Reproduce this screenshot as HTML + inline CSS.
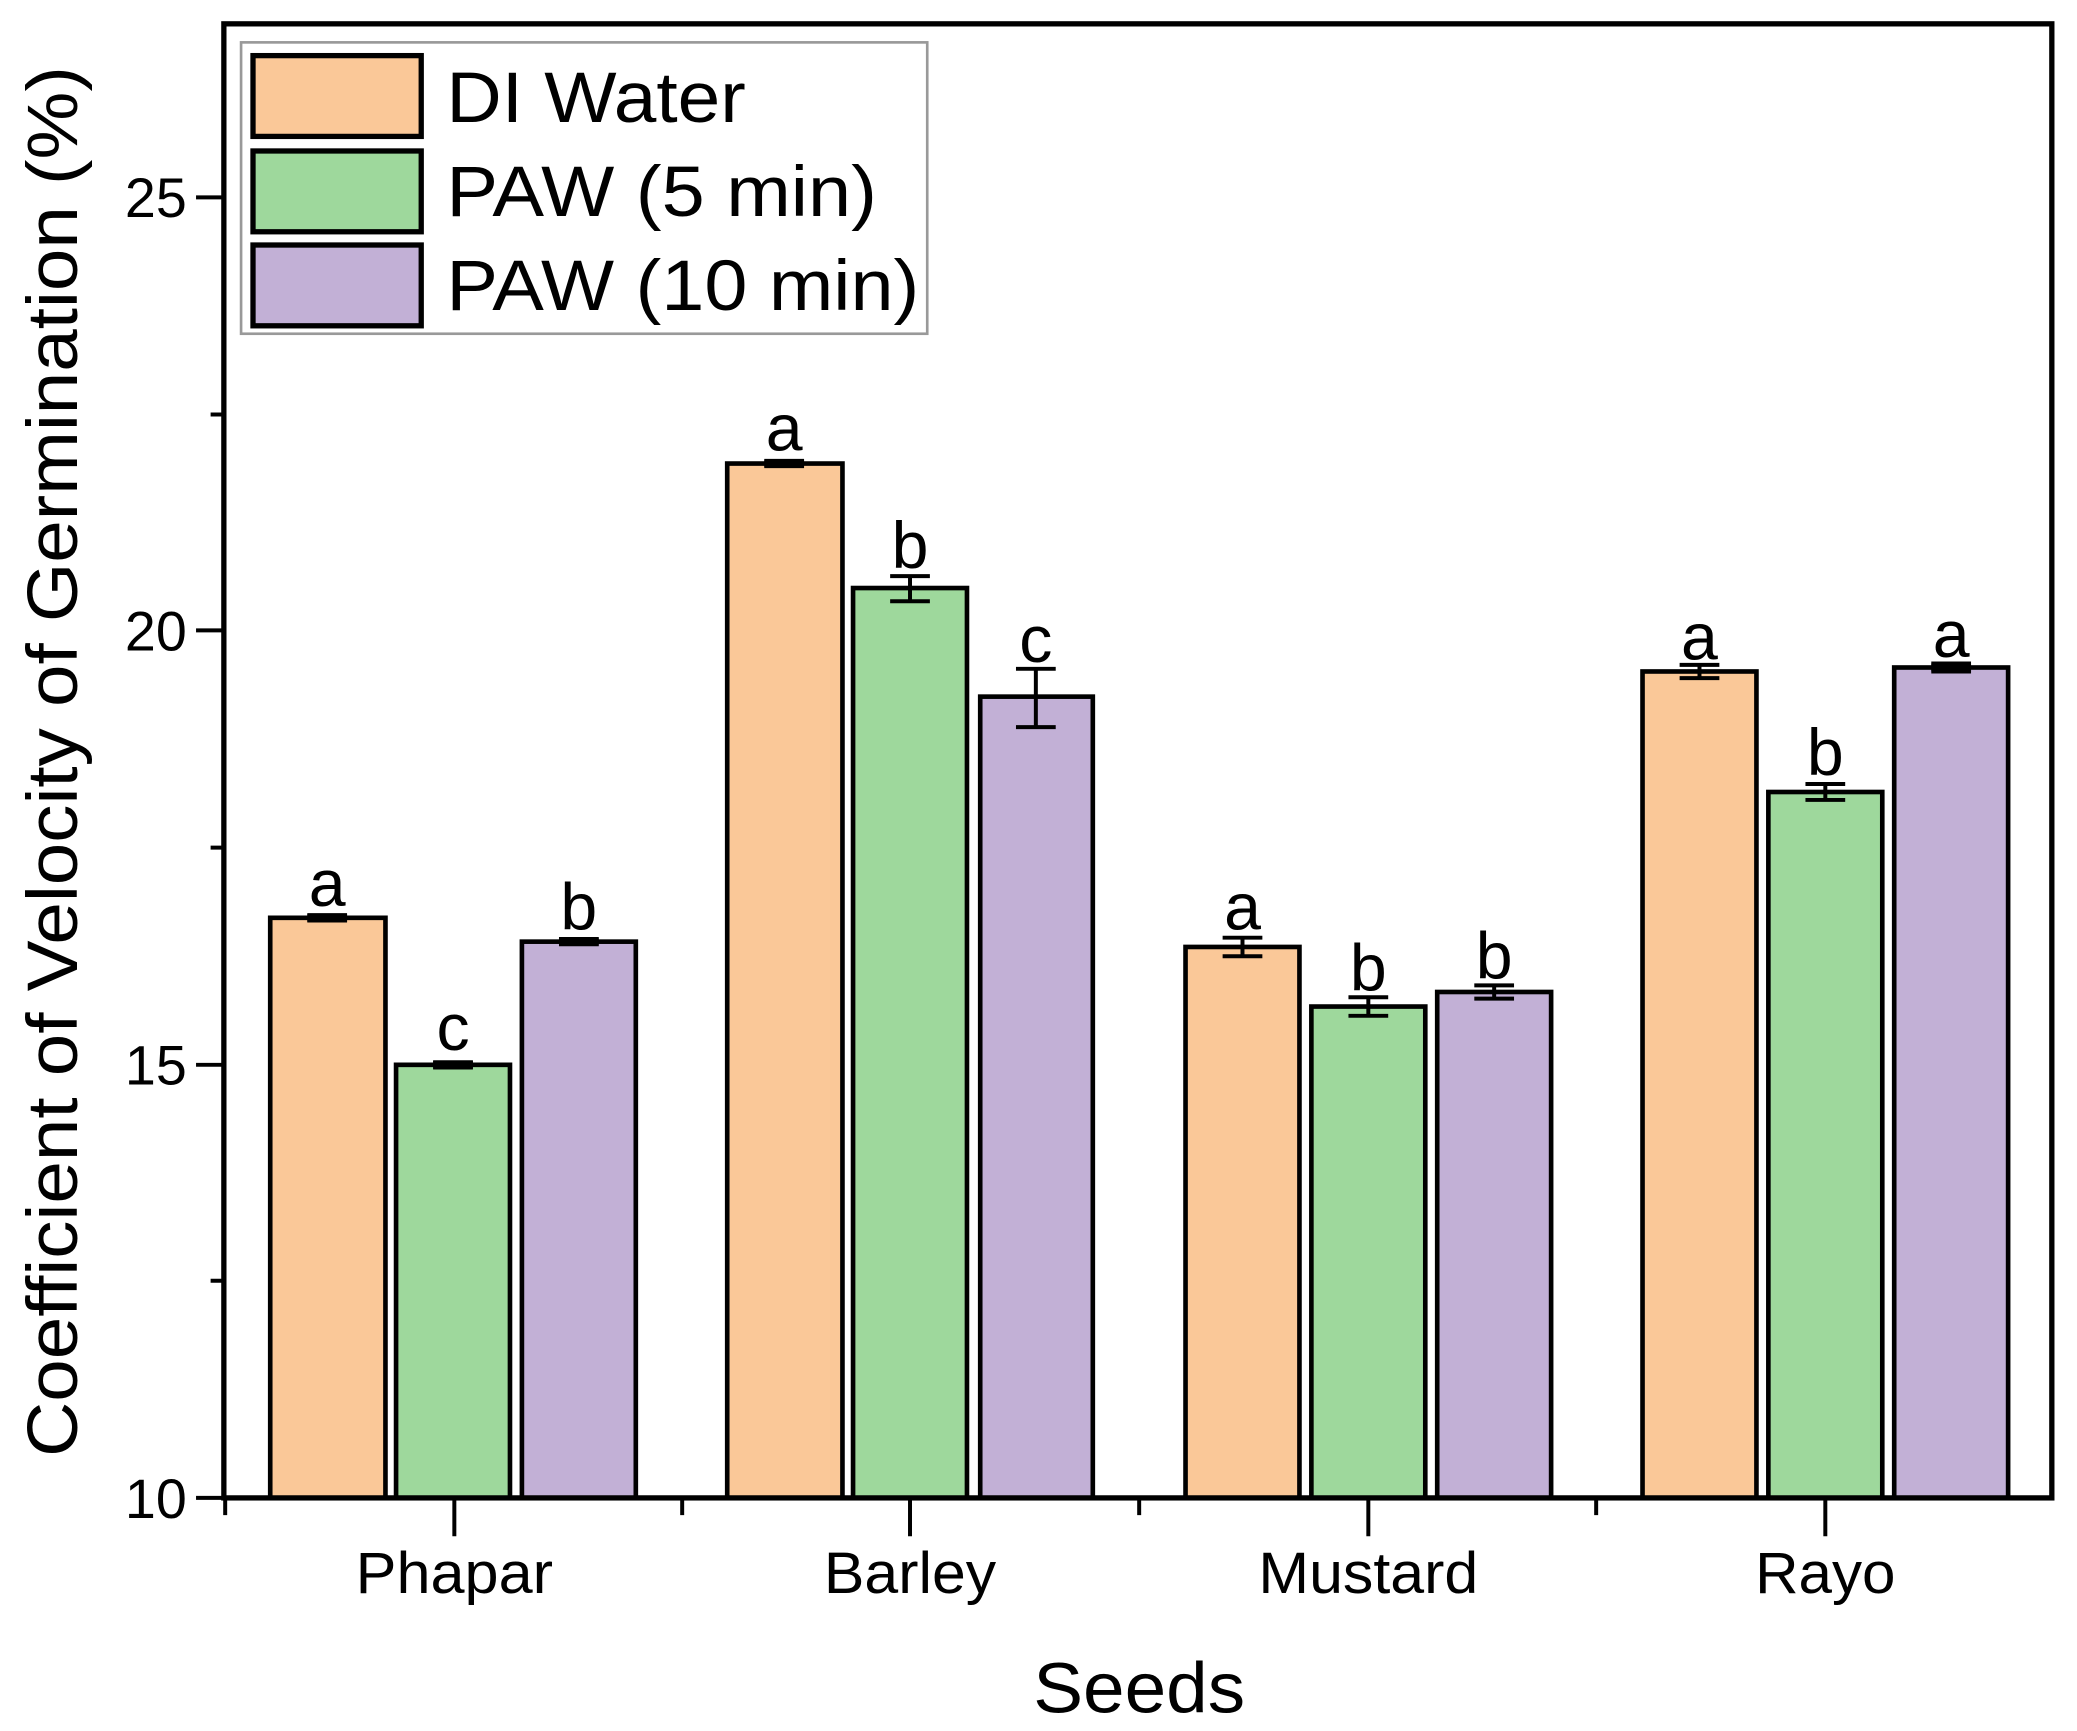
<!DOCTYPE html>
<html><head><meta charset="utf-8"><style>html,body{margin:0;padding:0;background:#fff}svg{display:block}</style></head>
<body>
<svg width="2077" height="1731" viewBox="0 0 1568 1307" preserveAspectRatio="none" xmlns="http://www.w3.org/2000/svg" font-family="Liberation Sans, Arial, sans-serif">
<rect width="1568" height="1307" fill="#fff"/>
<g stroke="#000" stroke-width="3.5">
<rect x="204" y="693" width="87" height="438" fill="#FAC898"/>
<rect x="299" y="804" width="86" height="327" fill="#9ED89C"/>
<rect x="394" y="711" width="86" height="420" fill="#C2B0D6"/>
<rect x="549" y="350" width="87" height="781" fill="#FAC898"/>
<rect x="644" y="444" width="86" height="687" fill="#9ED89C"/>
<rect x="740" y="526" width="85" height="605" fill="#C2B0D6"/>
<rect x="895" y="715" width="86" height="416" fill="#FAC898"/>
<rect x="990" y="760" width="86" height="371" fill="#9ED89C"/>
<rect x="1085" y="749" width="86" height="382" fill="#C2B0D6"/>
<rect x="1240" y="507" width="86" height="624" fill="#FAC898"/>
<rect x="1335" y="598" width="86" height="533" fill="#9ED89C"/>
<rect x="1430" y="504" width="86" height="627" fill="#C2B0D6"/>
</g>
<g stroke="#000" stroke-width="3" fill="none">
<path d="M232 691h30M232 695h30"/>
<path d="M327 802h30M327 806h30"/>
<path d="M422 709h30M422 713h30"/>
<path d="M577 348h30M577 352h30"/>
<path d="M672 435h30M672 454h30M687 435v19"/>
<path d="M767 505h30M767 549h30M782 505v44"/>
<path d="M923 708h30M923 722h30M938 708v14"/>
<path d="M1018 753h30M1018 767h30M1033 753v14"/>
<path d="M1113 744h30M1113 754h30M1128 744v10"/>
<path d="M1268 502h30M1268 512h30M1283 502v10"/>
<path d="M1363 592h30M1363 604h30M1378 592v12"/>
<path d="M1458 501h30M1458 507h30"/>
</g>
<g stroke="#000" stroke-width="6"><path d="M232 693h30M327 804h30M422 711h30M577 350h30M1458 504h30"/></g>
<g font-size="50" text-anchor="middle" fill="#000">
<text x="247" y="684">a</text><text x="342" y="793">c</text><text x="437" y="702">b</text>
<text x="592" y="340">a</text><text x="687" y="429">b</text><text x="782" y="500">c</text>
<text x="938" y="702">a</text><text x="1033" y="748">b</text><text x="1128" y="739">b</text>
<text x="1283" y="498">a</text><text x="1378" y="585">b</text><text x="1473" y="496">a</text>
</g>
<rect x="169" y="18" width="1380" height="1113" fill="none" stroke="#000" stroke-width="4"/>
<g stroke="#000" stroke-width="3">
<path d="M148 149h21M148 476h21M148 804h21M148 1131h21M159 313h10M159 640h10M159 967h10"/>
<path d="M343 1131v29M687 1131v29M1033 1131v29M1378 1131v29M170 1131v13M515 1131v13M860 1131v13M1205 1131v13"/>
</g>
<g font-size="42" text-anchor="end" fill="#000">
<text x="141" y="164">25</text><text x="141" y="491">20</text><text x="141" y="819">15</text><text x="141" y="1146">10</text>
</g>
<g font-size="44" text-anchor="middle" fill="#000">
<text x="343" y="1203" textLength="149" lengthAdjust="spacingAndGlyphs">Phapar</text>
<text x="687" y="1203" textLength="130" lengthAdjust="spacingAndGlyphs">Barley</text>
<text x="1033" y="1203" textLength="166" lengthAdjust="spacingAndGlyphs">Mustard</text>
<text x="1378" y="1203" textLength="106" lengthAdjust="spacingAndGlyphs">Rayo</text>
</g>
<text x="860" y="1293" font-size="54" text-anchor="middle" textLength="160" lengthAdjust="spacingAndGlyphs">Seeds</text>
<text transform="translate(58,575) rotate(-90)" font-size="54" text-anchor="middle" textLength="1050" lengthAdjust="spacingAndGlyphs">Coefficient of Velocity of Germination (%)</text>
<rect x="182" y="32" width="518" height="220" fill="#fff" stroke="#999" stroke-width="2"/>
<g stroke="#000" stroke-width="4">
<rect x="191" y="42" width="127" height="61" fill="#FAC898"/>
<rect x="191" y="114" width="127" height="61" fill="#9ED89C"/>
<rect x="191" y="185" width="127" height="61" fill="#C2B0D6"/>
</g>
<g font-size="54" fill="#000">
<text x="337" y="92" textLength="226" lengthAdjust="spacingAndGlyphs">DI Water</text>
<text x="337" y="163" textLength="325" lengthAdjust="spacingAndGlyphs">PAW (5 min)</text>
<text x="337" y="234" textLength="357" lengthAdjust="spacingAndGlyphs">PAW (10 min)</text>
</g>
</svg>
</body></html>
